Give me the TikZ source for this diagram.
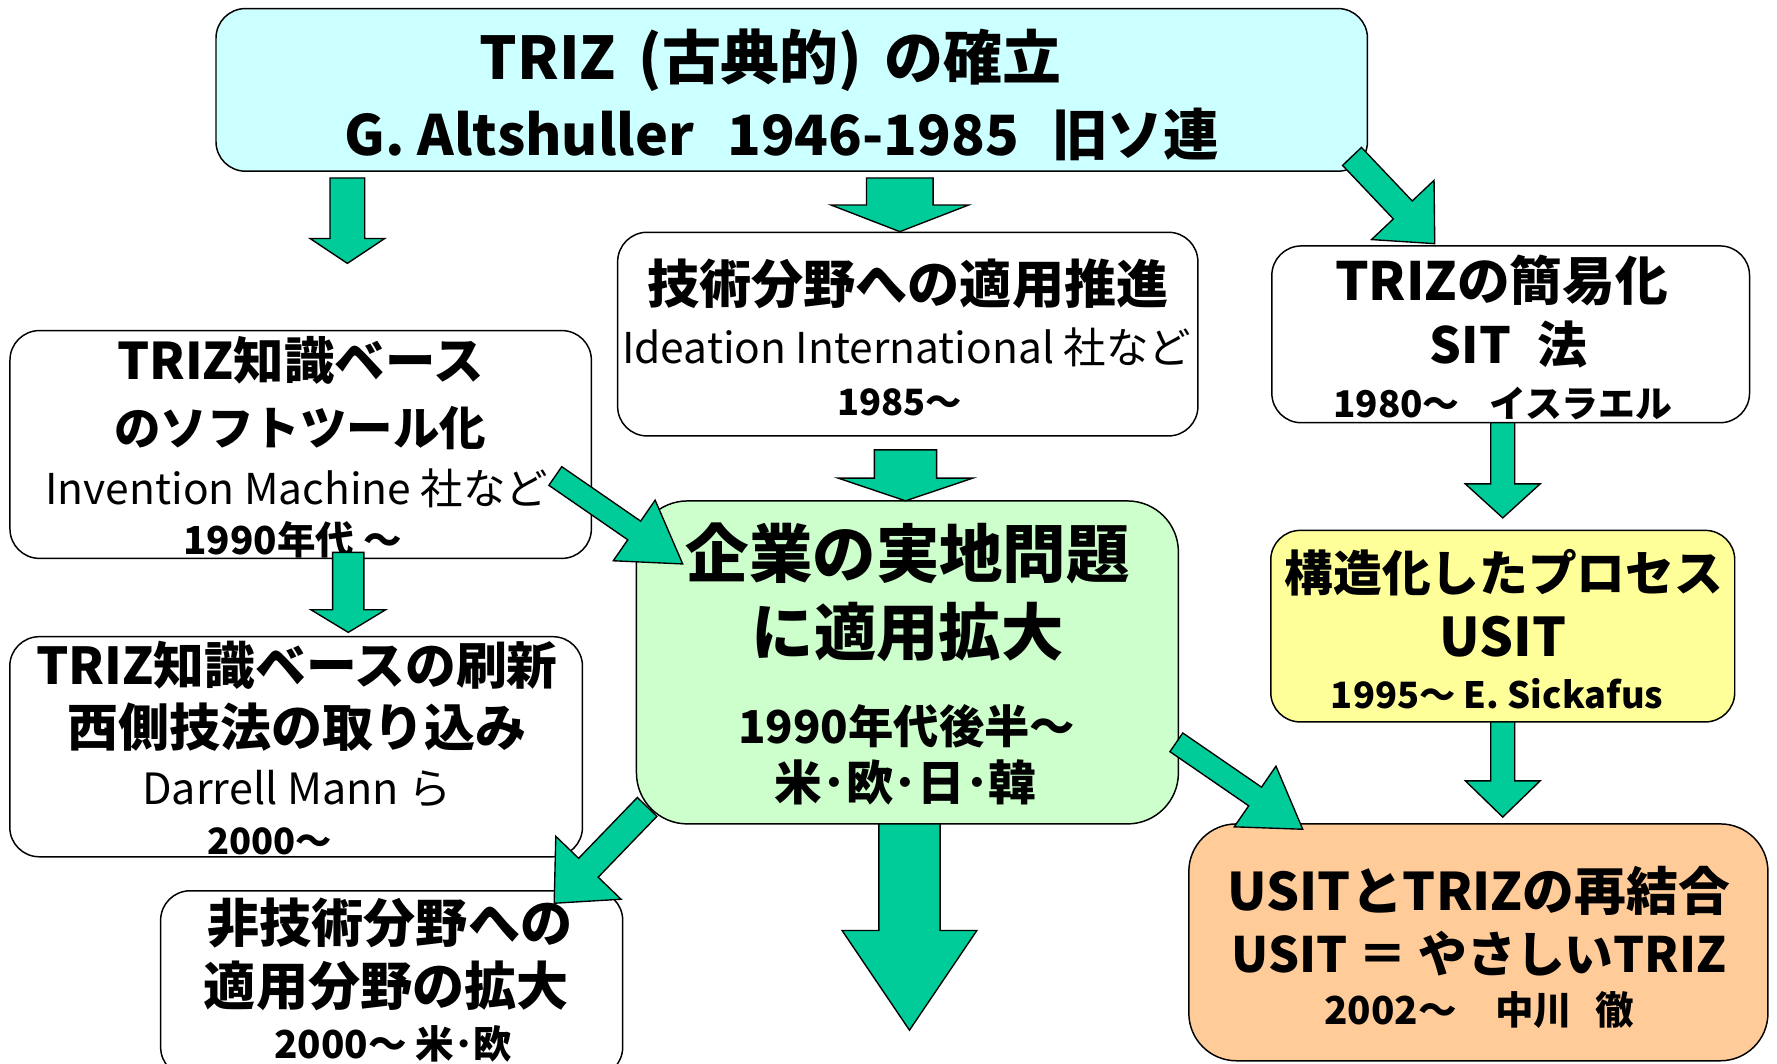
\documentclass[tikz,border=0pt]{standalone}
\usepackage{fontspec}
\setmainfont{Noto Sans CJK JP}
\usetikzlibrary{calc}
\definecolor{arrowgreen}{HTML}{00CC99}
\definecolor{topcyan}{HTML}{CCFFFF}
\definecolor{boxgreen}{HTML}{CCFFCC}
\definecolor{boxyellow}{HTML}{FFFF99}
\definecolor{boxorange}{HTML}{FFCC99}
\newcommand\setfs[1]{\fontsize{#1}{#1}\selectfont}
% #1 start, #2 tip, #3 shaft half width, #4 head half width, #5 head length
\newcommand\blockarrow[5]{%
  \coordinate (bac) at ($(#2)!#5!(#1)$);
  \filldraw[arrowstyle] ($(#1)!#3!90:(#2)$) -- ($(bac)!#3!-90:(#1)$) -- ($(bac)!#4!-90:(#1)$)
    -- (#2) -- ($(bac)!#4!90:(#1)$) -- ($(bac)!#3!90:(#1)$) -- ($(#1)!#3!-90:(#2)$) -- cycle;}
\tikzset{
  box/.style={draw=black, line width=1.3pt, rounded corners=26pt, inner sep=0pt},
  txt/.style={anchor=base, inner sep=0pt, font=\bfseries},
  ltxt/.style={anchor=base, inner sep=0pt},
  arrowstyle/.style={fill=arrowgreen, draw=black, line width=1.2pt, line join=miter},
}
\begin{document}
\begin{tikzpicture}[x=1pt,y=-1pt]
\useasboundingbox (0,0) rectangle (1568,938);
% boxes
\node[box, fill=topcyan, minimum width=1016pt, minimum height=143.5pt] (top) at (698.6,79.3) {};
\node[box, fill=white, minimum width=512pt, minimum height=179.7pt] (ideation) at (801,294.8) {};
\node[box, fill=white, minimum width=421.5pt, minimum height=156pt] (sit) at (1333,295) {};
\node[box, fill=white, minimum width=513pt, minimum height=201pt] (soft) at (265.3,392.2) {};
\node[box, fill=boxgreen, rounded corners=45pt, minimum width=478.2pt, minimum height=285pt] (apply) at (800.7,584.5) {};
\node[box, fill=white, minimum width=505.3pt, minimum height=194.2pt] (renew) at (261.3,658.9) {};
\node[box, fill=boxyellow, minimum width=409.4pt, minimum height=169pt] (usit) at (1326,552.5) {};
\node[box, fill=white, minimum width=407.7pt, minimum height=164pt] (nontech) at (345.6,868) {};
\node[box, fill=boxorange, rounded corners=42pt, minimum width=511pt, minimum height=209pt] (recomb) at (1304.5,831.5) {};
% texts
\node[txt] (top1) at (680,70) {\setfs{52}TRIZ\hspace{0.15em} (古典的)\hspace{0.15em} の確立};
\node[txt] (top2) at (690,137) {\setfs{49}G. Altshuller\hspace{0.6em}1946-1985\hspace{0.6em}旧ソ連};
\node[txt] (id1) at (801,268) {\setfs{46}技術分野への適用推進};
\node[ltxt] (id2) at (800,321) {\setfs{37.5}Ideation International 社など};
\node[txt] (id3) at (794,367) {\setfs{32}1985～};
\node[txt] (sit1) at (1325,265) {\setfs{46.5}TRIZの簡易化};
\node[txt] (sit2) at (1331,321) {\setfs{44}SIT\hspace{0.3em} 法};
\node[txt] (sit3) at (1326,368) {\setfs{32.5}1980～\hspace{0.8em}イスラエル};
\node[txt] (soft1) at (265,335) {\setfs{44.5}TRIZ知識ベース};
\node[txt] (soft2) at (265,393) {\setfs{41}のソフトツール化};
\node[ltxt] (soft3) at (262,445) {\setfs{37.5}Invention Machine 社など};
\node[txt] (soft4) at (258,489) {\setfs{34}1990年代 ～};
\node[txt] (ap1) at (801,510) {\setfs{56}企業の実地問題};
\node[txt] (ap2) at (801,578) {\setfs{55}に適用拡大};
\node[txt] (ap3) at (800,656) {\setfs{40}1990年代後半～};
\node[txt] (ap4) at (799,706) {\setfs{42}米･欧･日･韓};
\node[txt] (rn1) at (262,604) {\setfs{44.8}TRIZ知識ベースの刷新};
\node[txt] (rn2) at (262,659) {\setfs{45}西側技法の取り込み};
\node[ltxt] (rn3) at (262,710) {\setfs{38}Darrell Mann ら};
\node[txt] (rn4) at (238,754) {\setfs{32}2000～};
\node[txt] (us1) at (1327,522) {\setfs{43}構造化したプロセス};
\node[txt] (us2) at (1326,579) {\setfs{47}USIT};
\node[txt] (us3) at (1321,625) {\setfs{32}1995～ E. Sickafus};
\node[txt] (nt1) at (344,832) {\setfs{46}非技術分野への};
\node[txt] (nt2) at (341,887) {\setfs{46}適用分野の拡大};
\node[txt] (nt3) at (347,934) {\setfs{34}2000～ 米･欧};
\node[txt] (rc1) at (1305,803) {\setfs{45.7}USITとTRIZの再結合};
\node[txt] (rc2) at (1305,858) {\setfs{43}USIT ＝ やさしいTRIZ};
\node[txt] (rc3) at (1305,904) {\setfs{34}2002～\hspace{1em}中川\hspace{0.6em}徹};
% arrow end points
\coordinate (a1s) at (306.5,157);   \coordinate (a1t) at (306.5,232.4);
\coordinate (a2s) at (794,157);     \coordinate (a2t) at (794,204.4);
\coordinate (a3s) at (1193,138);    \coordinate (a3t) at (1266,215);
\coordinate (a4s) at (799,397);     \coordinate (a4t) at (799,441.9);
\coordinate (a5s) at (490,420);     \coordinate (a5t) at (602.4,497.6);
\coordinate (a6s) at (307.3,487.4); \coordinate (a6t) at (307.3,558);
\coordinate (a7s) at (1326,373);    \coordinate (a7t) at (1326,457);
\coordinate (a8s) at (1326,637);    \coordinate (a8t) at (1326,721);
\coordinate (a9s) at (1038,655);    \coordinate (a9t) at (1149.5,731.7);
\coordinate (a10s) at (571,712);    \coordinate (a10t) at (489,797);
\coordinate (a11s) at (802.5,727);  \coordinate (a11t) at (802.5,909);
% arrows
\blockarrow{a1s}{a1t}{15.3pt}{33pt}{22pt}
\blockarrow{a2s}{a2t}{29.4pt}{60.7pt}{23.5pt}
\blockarrow{a3s}{a3t}{11.5pt}{38pt}{41pt}
\blockarrow{a4s}{a4t}{27.5pt}{59.4pt}{20pt}
\blockarrow{a5s}{a5t}{10pt}{32.5pt}{52pt}
\blockarrow{a6s}{a6t}{13.8pt}{33pt}{20pt}
\blockarrow{a7s}{a7t}{10.6pt}{33pt}{30pt}
\blockarrow{a8s}{a8t}{10.6pt}{33pt}{32pt}
\blockarrow{a9s}{a9t}{10pt}{32.5pt}{51pt}
\blockarrow{a10s}{a10t}{12pt}{40pt}{43.5pt}
\blockarrow{a11s}{a11t}{27pt}{59.5pt}{88pt}
\end{tikzpicture}
\end{document}
